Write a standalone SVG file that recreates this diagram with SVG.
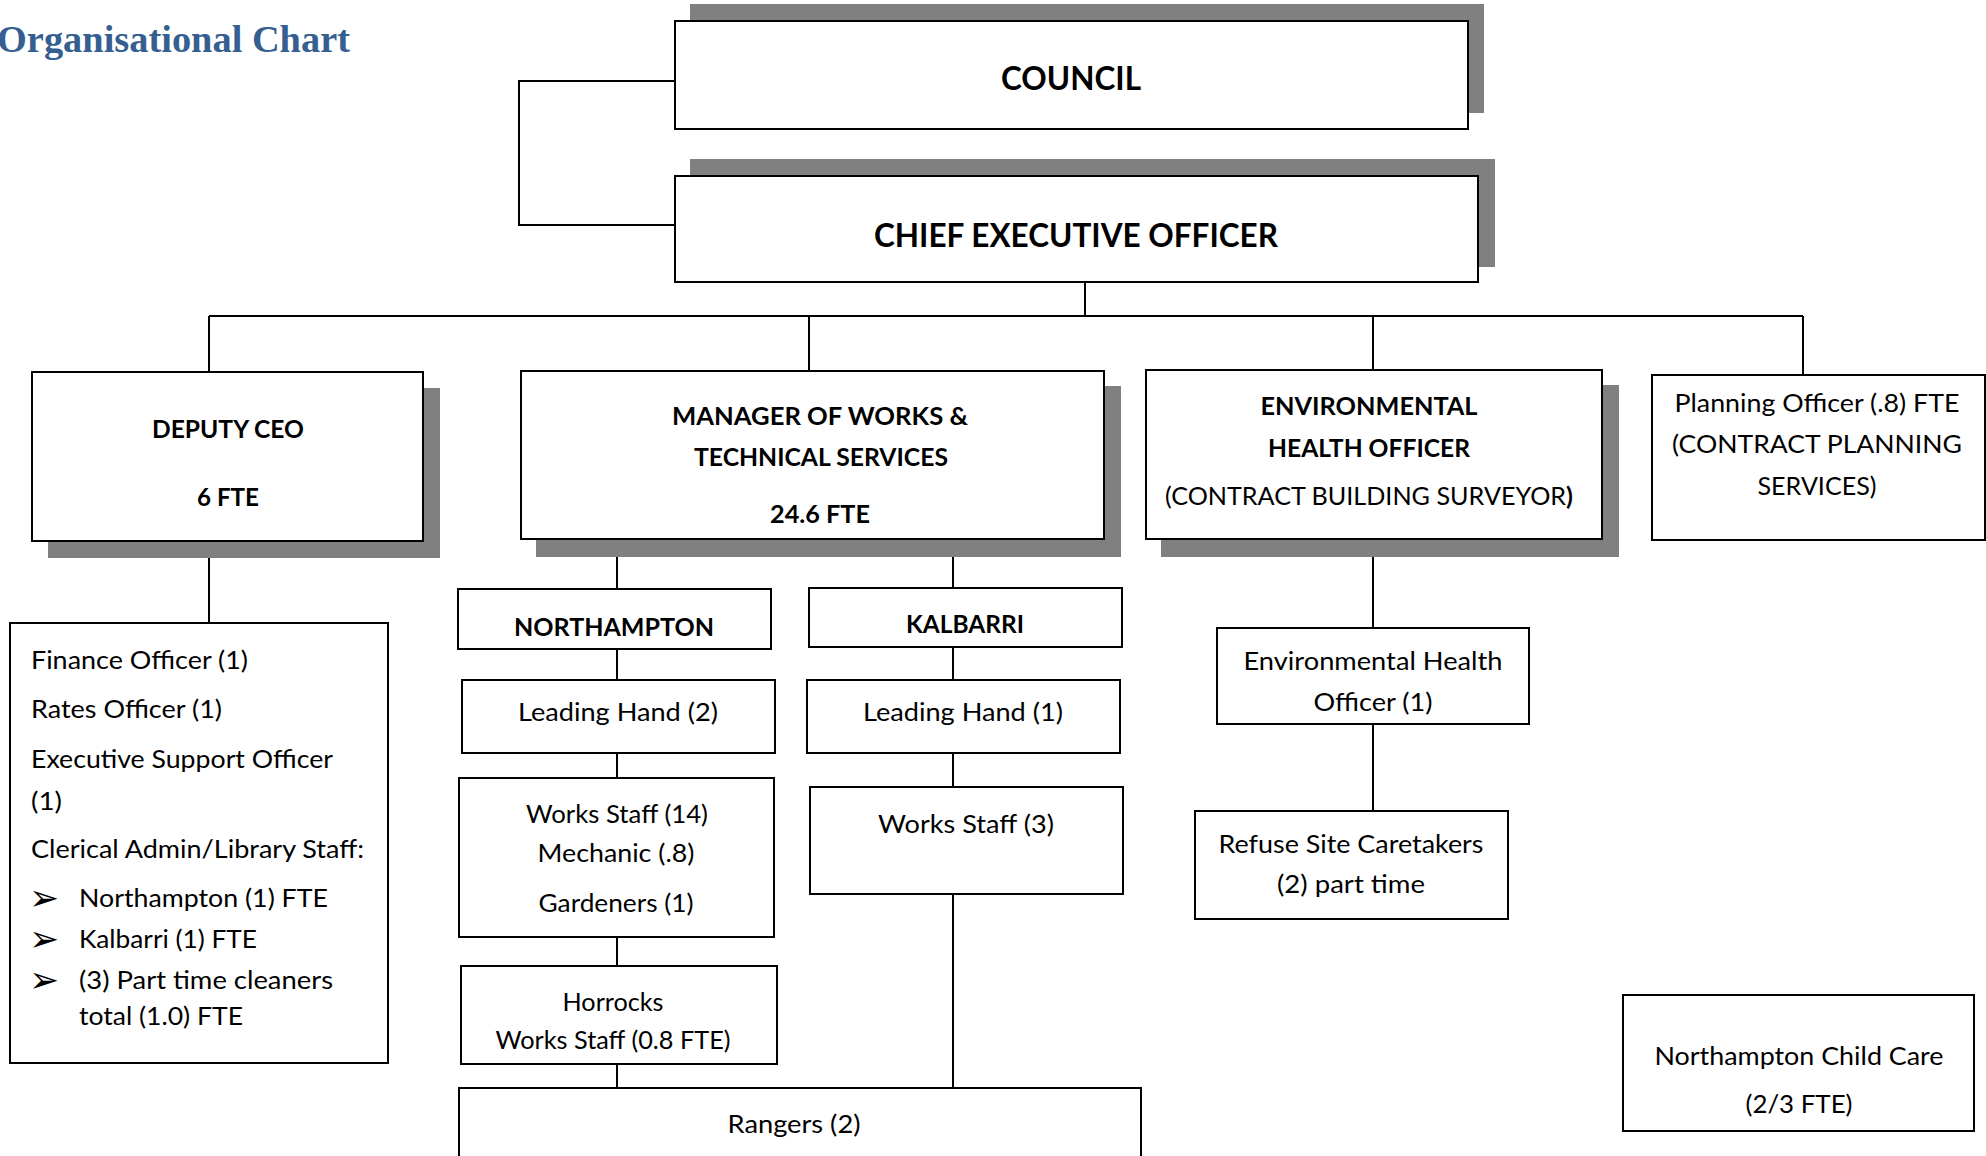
<svg xmlns="http://www.w3.org/2000/svg" width="1986" height="1156" viewBox="0 0 1986 1156">
<style>
  .box { fill: #ffffff; stroke: #000000; stroke-width: 2; }
  .shadow { fill: #808080; stroke: none; }
  .conn { stroke: #000000; stroke-width: 2; fill: none; }
  text { font-family: Lato, "Open Sans", "Liberation Sans", sans-serif; fill: #000000; }
  .b { font-weight: bold; font-size: 25px; text-anchor: middle; }
  .big { font-weight: bold; font-size: 33px; text-anchor: middle; }
  .r { font-size: 25px; text-anchor: middle; }
  .l { font-size: 25px; text-anchor: start; }
  .bul { font-family: "DejaVu Sans", sans-serif; font-size: 36px; }
  .title { font-family: "Liberation Serif", "DejaVu Serif", serif; font-weight: bold; font-size: 37px; fill: #365F91; }
</style>
<rect x="0" y="0" width="1986" height="1156" fill="#ffffff"/>
<text class="title" x="-3" y="52" textLength="353" lengthAdjust="spacingAndGlyphs">Organisational Chart</text>

<g id="connectors">
  <polyline class="conn" points="675,81 519,81 519,225 675,225"/>
  <line class="conn" x1="1085" y1="282" x2="1085" y2="316"/>
  <line class="conn" x1="209" y1="316" x2="1803" y2="316"/>
  <line class="conn" x1="209" y1="316" x2="209" y2="372"/>
  <line class="conn" x1="809" y1="316" x2="809" y2="371"/>
  <line class="conn" x1="1373" y1="316" x2="1373" y2="370"/>
  <line class="conn" x1="1803" y1="316" x2="1803" y2="375"/>
  <line class="conn" x1="209" y1="541" x2="209" y2="623"/>
  <line class="conn" x1="617" y1="539" x2="617" y2="589"/>
  <line class="conn" x1="953" y1="539" x2="953" y2="588"/>
  <line class="conn" x1="617" y1="649" x2="617" y2="680"/>
  <line class="conn" x1="953" y1="647" x2="953" y2="680"/>
  <line class="conn" x1="617" y1="753" x2="617" y2="778"/>
  <line class="conn" x1="953" y1="753" x2="953" y2="787"/>
  <line class="conn" x1="617" y1="937" x2="617" y2="966"/>
  <line class="conn" x1="617" y1="1064" x2="617" y2="1088"/>
  <line class="conn" x1="953" y1="894" x2="953" y2="1088"/>
  <line class="conn" x1="1373" y1="539" x2="1373" y2="628"/>
  <line class="conn" x1="1373" y1="724" x2="1373" y2="811"/>
</g>

<g id="council">
  <rect class="shadow" x="690" y="4" width="794" height="109"/>
  <rect class="box" x="675" y="21" width="793" height="108"/>
  <text class="big" x="1071" y="90" textLength="140" lengthAdjust="spacingAndGlyphs">COUNCIL</text>
</g>

<g id="ceo">
  <rect class="shadow" x="690" y="159" width="805" height="108"/>
  <rect class="box" x="675" y="176" width="803" height="106"/>
  <text class="big" x="1076" y="247" textLength="404" lengthAdjust="spacingAndGlyphs">CHIEF EXECUTIVE OFFICER</text>
</g>

<g id="deputy-ceo">
  <rect class="shadow" x="48" y="388" width="392" height="170"/>
  <rect class="box" x="32" y="372" width="391" height="169"/>
  <text class="b" x="228" y="438" textLength="152" lengthAdjust="spacingAndGlyphs">DEPUTY CEO</text>
  <text class="b" x="228" y="506" textLength="62" lengthAdjust="spacingAndGlyphs">6 FTE</text>
</g>

<g id="manager-works">
  <rect class="shadow" x="536" y="386" width="585" height="171"/>
  <rect class="box" x="521" y="371" width="583" height="168"/>
  <text class="b" x="820" y="425" textLength="296" lengthAdjust="spacingAndGlyphs">MANAGER OF WORKS &amp;</text>
  <text class="b" x="821" y="466" textLength="254" lengthAdjust="spacingAndGlyphs">TECHNICAL SERVICES</text>
  <text class="b" x="820" y="523" textLength="100" lengthAdjust="spacingAndGlyphs">24.6 FTE</text>
</g>

<g id="env-health">
  <rect class="shadow" x="1161" y="385" width="458" height="172"/>
  <rect class="box" x="1146" y="370" width="456" height="169"/>
  <text class="b" x="1369" y="415" textLength="217" lengthAdjust="spacingAndGlyphs">ENVIRONMENTAL</text>
  <text class="b" x="1369" y="457" textLength="202" lengthAdjust="spacingAndGlyphs">HEALTH OFFICER</text>
  <text class="r" x="1369" y="505" textLength="408" lengthAdjust="spacingAndGlyphs">(CONTRACT BUILDING SURVEYOR<tspan font-weight="bold">)</tspan></text>
</g>

<g id="planning-officer">
  <rect class="box" x="1652" y="375" width="333" height="165"/>
  <text class="r" x="1817" y="412" textLength="285" lengthAdjust="spacingAndGlyphs">Planning Officer (.8) FTE</text>
  <text class="r" x="1817" y="453" textLength="290" lengthAdjust="spacingAndGlyphs">(CONTRACT PLANNING</text>
  <text class="r" x="1817" y="495" textLength="119" lengthAdjust="spacingAndGlyphs">SERVICES)</text>
</g>

<g id="deputy-staff">
  <rect class="box" x="10" y="623" width="378" height="440"/>
  <text class="l" x="31" y="669" textLength="217" lengthAdjust="spacingAndGlyphs">Finance Officer (1)</text>
  <text class="l" x="31" y="718" textLength="191" lengthAdjust="spacingAndGlyphs">Rates Officer (1)</text>
  <text class="l" x="31" y="768" textLength="302" lengthAdjust="spacingAndGlyphs">Executive Support Officer</text>
  <text class="l" x="31" y="810" textLength="31" lengthAdjust="spacingAndGlyphs">(1)</text>
  <text class="l" x="31" y="858" textLength="333" lengthAdjust="spacingAndGlyphs">Clerical Admin/Library Staff:</text>
  <text class="bul" x="29" y="910">➢</text>
  <text class="l" x="79" y="907" textLength="249" lengthAdjust="spacingAndGlyphs">Northampton (1) FTE</text>
  <text class="bul" x="29" y="951">➢</text>
  <text class="l" x="79" y="948" textLength="178" lengthAdjust="spacingAndGlyphs">Kalbarri (1) FTE</text>
  <text class="bul" x="29" y="992">➢</text>
  <text class="l" x="79" y="989" textLength="254" lengthAdjust="spacingAndGlyphs">(3) Part time cleaners</text>
  <text class="l" x="79" y="1025" textLength="164" lengthAdjust="spacingAndGlyphs">total (1.0) FTE</text>
</g>

<g id="northampton">
  <rect class="box" x="458" y="589" width="313" height="60"/>
  <text class="b" x="614" y="636" textLength="200" lengthAdjust="spacingAndGlyphs">NORTHAMPTON</text>
</g>

<g id="kalbarri">
  <rect class="box" x="809" y="588" width="313" height="59"/>
  <text class="b" x="965" y="633" textLength="118" lengthAdjust="spacingAndGlyphs">KALBARRI</text>
</g>

<g id="leading-hand-n">
  <rect class="box" x="462" y="680" width="313" height="73"/>
  <text class="r" x="618" y="721" textLength="200" lengthAdjust="spacingAndGlyphs">Leading Hand (2)</text>
</g>

<g id="leading-hand-k">
  <rect class="box" x="807" y="680" width="313" height="73"/>
  <text class="r" x="963" y="721" textLength="200" lengthAdjust="spacingAndGlyphs">Leading Hand (1)</text>
</g>

<g id="works-staff-n">
  <rect class="box" x="459" y="778" width="315" height="159"/>
  <text class="r" x="617" y="823" textLength="182" lengthAdjust="spacingAndGlyphs">Works Staff (14)</text>
  <text class="r" x="616" y="862" textLength="157" lengthAdjust="spacingAndGlyphs">Mechanic (.8)</text>
  <text class="r" x="616" y="912" textLength="155" lengthAdjust="spacingAndGlyphs">Gardeners (1)</text>
</g>

<g id="works-staff-k">
  <rect class="box" x="810" y="787" width="313" height="107"/>
  <text class="r" x="966" y="833" textLength="176" lengthAdjust="spacingAndGlyphs">Works Staff (3)</text>
</g>

<g id="horrocks">
  <rect class="box" x="461" y="966" width="316" height="98"/>
  <text class="r" x="613" y="1011" textLength="101" lengthAdjust="spacingAndGlyphs">Horrocks</text>
  <text class="r" x="613" y="1049" textLength="235" lengthAdjust="spacingAndGlyphs">Works Staff (0.8 FTE)</text>
</g>

<g id="rangers">
  <rect class="box" x="459" y="1088" width="682" height="90"/>
  <text class="r" x="794" y="1133" textLength="133" lengthAdjust="spacingAndGlyphs">Rangers (2)</text>
</g>

<g id="env-health-officer">
  <rect class="box" x="1217" y="628" width="312" height="96"/>
  <text class="r" x="1373" y="670" textLength="259" lengthAdjust="spacingAndGlyphs">Environmental Health</text>
  <text class="r" x="1373" y="711" textLength="119" lengthAdjust="spacingAndGlyphs">Officer (1)</text>
</g>

<g id="refuse-site">
  <rect class="box" x="1195" y="811" width="313" height="108"/>
  <text class="r" x="1351" y="853" textLength="265" lengthAdjust="spacingAndGlyphs">Refuse Site Caretakers</text>
  <text class="r" x="1351" y="893" textLength="148" lengthAdjust="spacingAndGlyphs">(2) part time</text>
</g>

<g id="child-care">
  <rect class="box" x="1623" y="995" width="351" height="136"/>
  <text class="r" x="1799" y="1065" textLength="289" lengthAdjust="spacingAndGlyphs">Northampton Child Care</text>
  <text class="r" x="1799" y="1113" textLength="107" lengthAdjust="spacingAndGlyphs">(2/3 FTE)</text>
</g>
</svg>
